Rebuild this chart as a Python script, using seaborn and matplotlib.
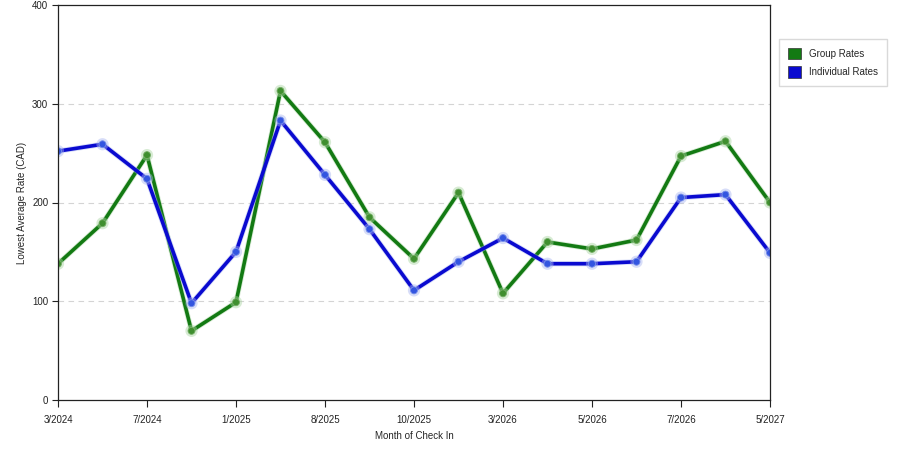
import matplotlib
matplotlib.use("Agg")
import matplotlib.pyplot as plt
import matplotlib.patheffects as pe
from matplotlib.patches import Patch
import pandas as pd
import seaborn as sns

# data (17 months, every other one labelled)
group_rates = [138, 179, 248, 70, 99, 313, 261, 185, 143, 210, 108,
               160, 153, 162, 247, 262, 200]
individual_rates = [252, 259, 224, 98, 150, 283, 228, 173, 111, 140, 164,
                    138, 138, 140, 205, 208, 149]
tick_labels = ['3/2024', '7/2024', '1/2025', '8/2025', '10/2025',
               '3/2026', '5/2026', '7/2026', '5/2027']
series_names = ['Group Rates', 'Individual Rates']
colors = {'Group Rates': '#137a13', 'Individual Rates': '#0a0ad0'}
marker_fill = {'Group Rates': '#3f8f2f', 'Individual Rates': '#3355e0'}
glow = {'Group Rates': '#a8d4a0', 'Individual Rates': '#a8b4f0'}
marker_edge = {'Group Rates': '#78b068', 'Individual Rates': '#7890ea'}

n = len(group_rates)
df = pd.DataFrame({
    'idx': list(range(n)) * 2,
    'rate': group_rates + individual_rates,
    'series': [series_names[0]] * n + [series_names[1]] * n,
})

sns.set_style('white')
plt.rcParams['font.family'] = ['Liberation Sans', 'DejaVu Sans']

fig = plt.figure(figsize=(9, 4.5), dpi=100)
ax = fig.add_axes([58 / 900, 50 / 450, 712 / 900, 395 / 450])

sns.lineplot(data=df, x='idx', y='rate', hue='series', palette=colors,
             marker='o', markersize=5, linewidth=2.6, legend=False, ax=ax,
             markeredgewidth=0.6)

for line in ax.get_lines():
    c = matplotlib.colors.to_hex(line.get_color())
    for k, v in colors.items():
        if c == v:
            line.set_path_effects([pe.Stroke(linewidth=3.8, foreground=glow[k], alpha=0.45),
                                   pe.Normal()])
            line.set_markerfacecolor(marker_fill[k])
            line.set_markeredgecolor(marker_edge[k])

ax.set_xlim(0, n - 1)
ax.set_ylim(0, 400)
ax.set_xticks(range(0, n, 2))
ax.set_xticklabels(tick_labels, fontsize=7)
ax.set_yticks([0, 100, 200, 300, 400])
ax.set_yticklabels(['0', '100', '200', '300', '400'], fontsize=7)
ax.tick_params(axis='x', direction='out', length=5, width=0.8, colors='#222222',
               bottom=True, pad=6)
ax.tick_params(axis='y', direction='out', length=4, width=0.8, colors='#222222',
               left=True, pad=3)

for y in [100, 200, 300]:
    ax.axhline(y, color='#d4d4d4', linestyle=(0, (5, 4)), linewidth=0.8, zorder=0)

for s in ax.spines.values():
    s.set_color('#222222')
    s.set_linewidth(0.9)

ax.set_xlabel('Month of Check In', fontsize=7, labelpad=4)
ax.set_ylabel('Lowest Average Rate (CAD)', fontsize=7, labelpad=4)

handles = [Patch(facecolor=colors[s], edgecolor='#333333', linewidth=0.5, label=s)
           for s in series_names]
fig.legend(handles=handles, loc='upper left', bbox_to_anchor=(779 / 900, 1 - 39 / 450),
           fontsize=7, frameon=True, fancybox=False, edgecolor='#d0d0d0',
           handlelength=1.4, handleheight=1.4, handletextpad=0.8, labelspacing=0.75,
           borderpad=0.9, borderaxespad=0)

fig.savefig('out.png', dpi=100)
